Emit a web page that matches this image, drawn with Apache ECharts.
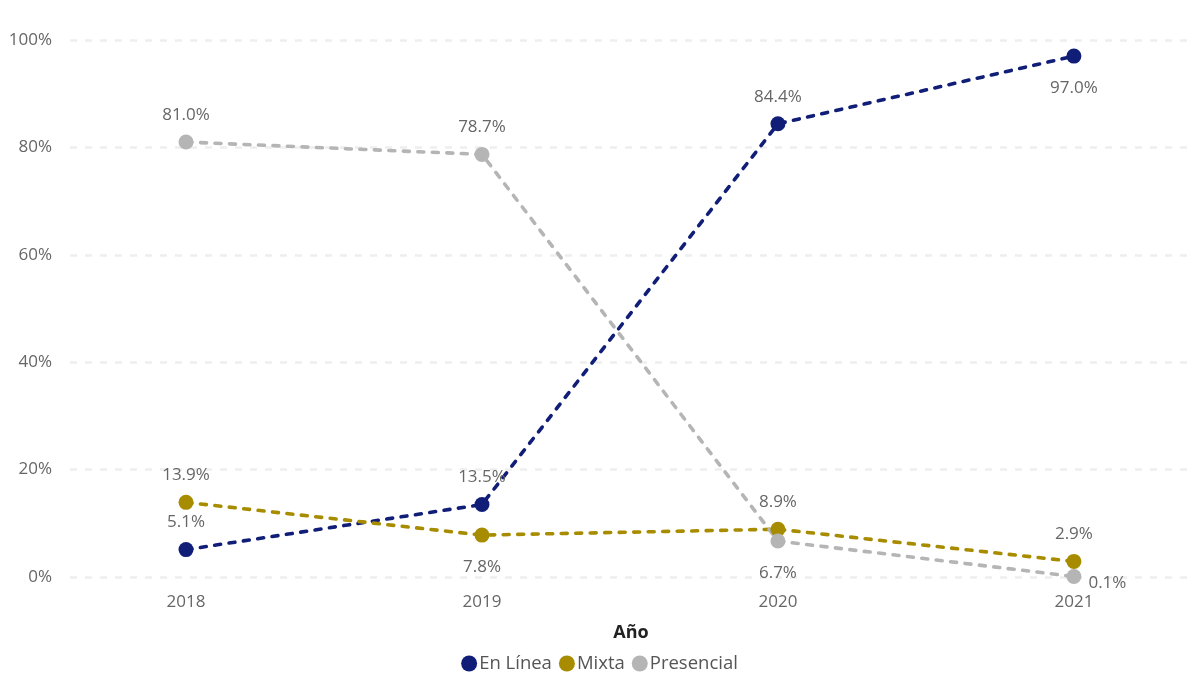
<!DOCTYPE html>
<html><head><meta charset="utf-8">
<script src="https://cdn.jsdelivr.net/npm/echarts@6/dist/echarts.min.js"></script>
<style>html,body{margin:0;padding:0;background:#fff}#c{width:1199px;height:692px}</style>
</head><body><div id="c"></div>
<script>
const years = [2018, 2019, 2020, 2021];
const enLinea = [5.1, 13.5, 84.4, 97.0];
const mixta = [13.9, 7.8, 8.9, 2.9];
const presencial = [81.0, 78.7, 6.7, 0.1];
const seriesNames = ['En Línea', 'Mixta', 'Presencial'];
const colors = ['#111E78', '#A88C00', '#B5B5B5'];
const labelPos = {
  'En Línea': ['top', 'top', 'top', 'bottom'],
  'Mixta': ['top', 'bottom', 'top', 'top'],
  'Presencial': ['top', 'top', 'bottom', 'right']
};
const FONT = '"Open Sans", "Noto Sans", sans-serif';
function mk(name, vals, color) {
  return {
    name, type: 'line',
    data: years.map((y, i) => {
      const pos = labelPos[name][i];
      return {
        value: [y, vals[i]],
        label: {position: pos, distance: pos === 'bottom' ? 16 : 11,
          offset: pos === 'right' ? [-4, 7] : [0, 0]}
      };
    }),
    symbol: 'circle', symbolSize: 15,
    itemStyle: {color},
    lineStyle: {color, width: 3.6, type: [6, 8.5], cap: 'round'},
    label: {show: true, color: '#666', fontSize: 17, fontFamily: FONT,
      formatter: p => p.value[1].toFixed(1) + '%'},
    emphasis: {disabled: true},
    animation: false
  };
}
const chart = echarts.init(document.getElementById('c'));
chart.setOption({
  animation: false,
  color: colors,
  grid: {left: 70, right: 7, top: 40, bottom: 115, containLabel: false},
  legend: {
    data: seriesNames, bottom: 14, left: 'center', icon: 'circle',
    itemWidth: 16, itemHeight: 16, itemGap: 7,
    textStyle: {color: '#555', fontSize: 18.5, fontFamily: FONT, padding: [0, 0, 0, -3]}
  },
  xAxis: {
    type: 'value', min: 2017.608, max: 2021.399,
    name: 'Año', nameLocation: 'middle', nameGap: 47,
    nameTextStyle: {color: '#222', fontSize: 18, fontWeight: 'bold', fontFamily: FONT},
    axisLine: {show: false}, axisTick: {show: false}, splitLine: {show: false},
    axisLabel: {customValues: years, color: '#666', fontSize: 17, fontFamily: FONT, margin: 17,
      formatter: v => String(v)}
  },
  yAxis: {
    type: 'value', min: 0, max: 100, interval: 20,
    axisLine: {show: false}, axisTick: {show: false},
    axisLabel: {color: '#666', fontSize: 17, fontFamily: FONT, margin: 18, formatter: v => v + '%'},
    splitLine: {lineStyle: {color: '#EEEEEE', width: 2.5, type: [7, 8]}}
  },
  series: [mk('En Línea', enLinea, colors[0]), mk('Mixta', mixta, colors[1]), mk('Presencial', presencial, colors[2])]
});
</script></body></html>
